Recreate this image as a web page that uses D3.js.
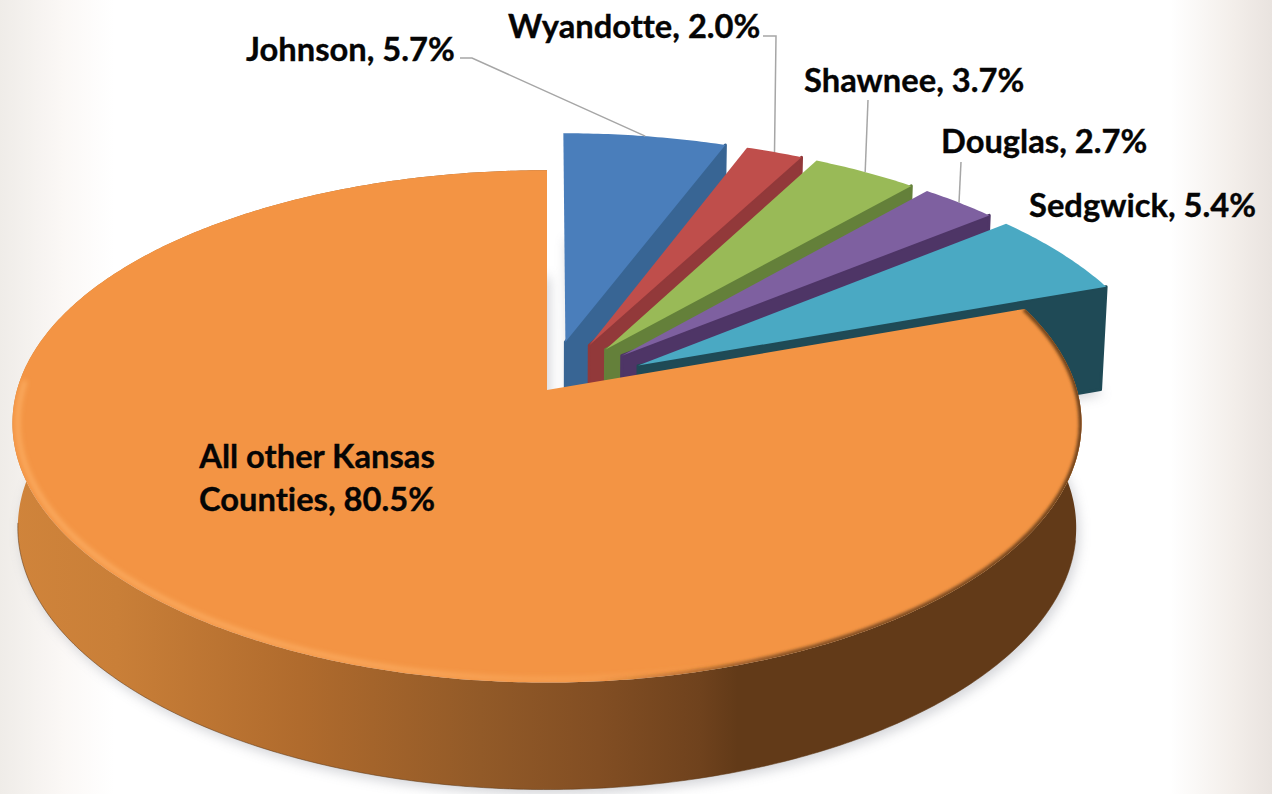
<!DOCTYPE html>
<html>
<head>
<meta charset="utf-8">
<script src="https://cdn.jsdelivr.net/npm/d3@7/dist/d3.min.js"></script>
<style>
  html, body { margin: 0; padding: 0; background: #fff; }
  svg { display: block; }
  text { font-family: Lato, "Open Sans", sans-serif; font-weight: 700; fill: #050505;
         stroke: #050505; stroke-width: 0.35; font-variant-ligatures: none; }
</style>
</head>
<body>
<svg id="chart" width="1272" height="794"></svg>
<script>
// Share of the total by county, clockwise from twelve o'clock.
const counties = ["Johnson", "Wyandotte", "Shawnee", "Douglas", "Sedgwick", "All other Kansas Counties"];
const shares = [5.7, 2.0, 3.7, 2.7, 5.4, 80.5];
const topColors = ["#4a7ebb", "#bf4e4b", "#99ba57", "#7e60a0", "#4aa9c3", "#f39444"];
const cutColors = ["#386594", "#92393a", "#64803a", "#4e3566", "#1f4a56", "#633a18"];

const svg = d3.select("#chart");
const defs = svg.append("defs");

// Tilted-disc projection: unit-disc coordinates to page pixels.
const cx = 547, cy = 390;
const kx = 530, ky = 251, px = 0.13, py = 0.142;
const explode = 0.2, bottomScale = 0.99;
const project = (X, Y) => [cx + kx * X / (1 - px * Y), cy + ky * Y / (1 - py * Y)];
// The lower plane sits a little further down toward the viewer.
const lower = ([x, y]) => [cx + (x - cx) * bottomScale, y + 104 + 3 * (y - cy) / 293];

const arcs = d3.pie().sort(null).value(d => d).startAngle(0).endAngle(2 * Math.PI)(shares);

arcs.forEach((a, i) => {
  const mid = (a.startAngle + a.endAngle) / 2;
  const e = i < 5 ? explode : 0;
  a.ox = e * Math.sin(mid);
  a.oy = -e * Math.cos(mid);
  a.apex = project(a.ox, a.oy);
  a.at = (t, r = 1) => project(a.ox + r * Math.sin(t), a.oy - r * Math.cos(t));
  a.span = (t0, t1, r = 1) => {
    const n = Math.max(12, Math.ceil((t1 - t0) * 90));
    return d3.range(n + 1).map(j => a.at(t0 + (t1 - t0) * j / n, r));
  };
  a.rim = (r = 1) => a.span(a.startAngle, a.endAngle, r);
});

const line = d3.line();
const closed = pts => line(pts) + "Z";

// Page tint along the left and right edges.
const bg = defs.append("linearGradient").attr("id", "pageTint");
[[0, "#efece8"], [0.05, "#fbf8f6"], [0.09, "#ffffff"], [0.92, "#ffffff"], [0.97, "#f3eeea"], [1, "#e9e3df"]]
  .forEach(([o, c]) => bg.append("stop").attr("offset", o).attr("stop-color", c));
svg.append("rect").attr("width", 1272).attr("height", 794).attr("fill", "url(#pageTint)");

defs.append("filter").attr("id", "softShadow")
  .attr("x", "-10%").attr("y", "-10%").attr("width", "120%").attr("height", "120%")
  .append("feGaussianBlur").attr("stdDeviation", 6);
defs.append("filter").attr("id", "softRim")
  .attr("x", "-5%").attr("y", "-5%").attr("width", "110%").attr("height", "110%")
  .append("feGaussianBlur").attr("stdDeviation", 1.8);
defs.append("filter").attr("id", "softGlow")
  .attr("x", "-5%").attr("y", "-5%").attr("width", "110%").attr("height", "110%")
  .append("feGaussianBlur").attr("stdDeviation", 2.4);

// Cast shadow of the lower plane of every slice.
svg.append("g").attr("filter", "url(#softShadow)").attr("fill", "#9a9ca6").attr("opacity", 0.42)
  .selectAll("path").data(arcs).join("path")
  .attr("transform", "translate(3,5)")
  .attr("d", a => closed([lower(a.apex), ...a.rim().map(lower)]));

// Exploded slices, back to front: cut face, then top face.
const slices = svg.append("g").selectAll("g").data(arcs.slice(0, 5)).join("g");
slices.append("path")
  .attr("fill", (a, i) => cutColors[i]).attr("stroke", (a, i) => cutColors[i])
  .attr("stroke-width", 3).attr("stroke-linejoin", "round")
  .attr("d", a => {
    const corner = a.at(a.endAngle);
    return closed([a.apex, corner, lower(corner), lower(a.apex)]);
  });
slices.append("path")
  .attr("fill", (a, i) => topColors[i])
  .attr("d", a => closed([a.apex, ...a.rim()]));

// The large slice: curved wall with a light-to-dark sweep.
const main = arcs[5];
const wallShade = defs.append("linearGradient").attr("id", "wallShade")
  .attr("gradientUnits", "userSpaceOnUse").attr("x1", 10).attr("x2", 1080).attr("y1", 0).attr("y2", 0);
[[0, "#d0843b"], [0.1, "#c97f38"], [0.27, "#b06b2d"], [0.44, "#925a28"], [0.55, "#824e23"], [0.645, "#6f421d"], [0.68, "#623a18"], [1, "#623a18"]]
  .forEach(([o, c]) => wallShade.append("stop").attr("offset", o).attr("stop-color", c));

const wallRim = main.rim();
svg.append("path").attr("fill", "url(#wallShade)")
  .attr("d", closed([...wallRim, ...wallRim.map(lower).reverse()]));
svg.append("path").attr("fill", "none").attr("stroke", "#5f3816").attr("stroke-opacity", 0.55).attr("stroke-width", 1)
  .attr("d", line(main.span(1.75, 4.6).map(lower)));

svg.append("path").attr("fill", topColors[5])
  .attr("d", closed([main.apex, ...main.rim()]));

// Bevel on the rim of the large slice: highlight on the lit side, shade on the far side.
defs.append("clipPath").attr("id", "mainTop")
  .append("path").attr("d", closed([main.apex, ...main.rim()]));
const glow = defs.append("linearGradient").attr("id", "rimGlow")
  .attr("gradientUnits", "userSpaceOnUse").attr("x1", 10).attr("x2", 1080).attr("y1", 0).attr("y2", 0);
[[0, 0.8], [0.35, 0.7], [0.56, 0.35], [0.66, 0]]
  .forEach(([o, v]) => glow.append("stop").attr("offset", o).attr("stop-color", "#ffb66c").attr("stop-opacity", v));
const shade = defs.append("linearGradient").attr("id", "rimShade")
  .attr("gradientUnits", "userSpaceOnUse").attr("x1", 10).attr("x2", 1080).attr("y1", 0).attr("y2", 0);
[[0.55, 0], [0.72, 0.75], [1, 0.95]]
  .forEach(([o, v]) => shade.append("stop").attr("offset", o).attr("stop-color", "#6a3f1a").attr("stop-opacity", v));

const bevel = svg.append("g").attr("clip-path", "url(#mainTop)");
bevel.append("path").attr("d", line(main.span(2.6, 4.75, 0.99))).attr("fill", "none")
  .attr("stroke", "url(#rimGlow)").attr("stroke-width", 4).attr("filter", "url(#softGlow)");
bevel.append("path").attr("d", line(main.span(main.startAngle, 3.3))).attr("fill", "none")
  .attr("stroke", "url(#rimShade)").attr("stroke-width", 6).attr("filter", "url(#softRim)");

// Leader lines run from each outer label to the middle of its slice's arc.
const elbows = [[[460, 58], [472, 58]], [[763, 36], [776, 36]], [[868, 100]], [[961, 162]]];
svg.append("g").attr("fill", "none").attr("stroke", "#a6a6a6").attr("stroke-width", 1.5)
  .selectAll("path").data(elbows).join("path")
  .attr("d", (pts, i) => {
    const a = arcs[i], end = a.at((a.startAngle + a.endAngle) / 2);
    return line([...pts, end]);
  });

// Labels.
const labelFor = i => `${counties[i]}, ${shares[i].toFixed(1)}%`;
const labelPos = [[246, 61], [508, 38], [804, 92], [941, 153], [1029, 217]];
const fontSize = 32.7;
svg.append("g").selectAll("text").data(labelPos).join("text")
  .attr("x", d => d[0]).attr("y", d => d[1])
  .attr("font-size", fontSize)
  .text((d, i) => labelFor(i));

const innerWords = labelFor(5).split(" ");
const innerLines = [innerWords.slice(0, 3).join(" "), innerWords.slice(3).join(" ")];
svg.append("g").selectAll("text").data(innerLines).join("text")
  .attr("x", 317).attr("y", (d, i) => 468 + i * 43)
  .attr("text-anchor", "middle").attr("font-size", fontSize)
  .text(d => d);
</script>
</body>
</html>
